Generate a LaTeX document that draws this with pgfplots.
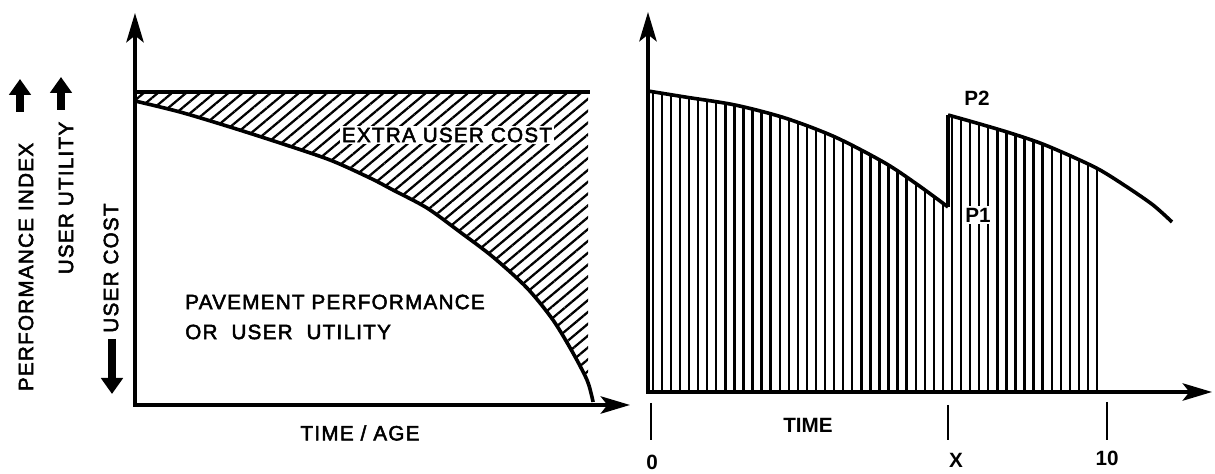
\documentclass[border=0pt]{standalone}
\usepackage{pgfplots}
\pgfplotsset{compat=1.18}
\usetikzlibrary{patterns.meta,arrows.meta}
\usepackage{fontspec}
\setmainfont{Liberation Sans}
\newfontface\medfont{Liberation Sans}[FakeBold=2.5, LetterSpace=6]
\tikzset{
 lab/.style={font=\fontsize{15.5}{18}\selectfont\medfont, inner sep=1.5pt},
 blab/.style={font=\fontsize{15.5}{18}\selectfont\bfseries, inner sep=1.5pt},
}
\pgfplotsset{
 diag/.style={
   x=0.75pt, y=0.75pt, axis lines=left, xtick=\empty, ytick=\empty,
   axis line style={line width=2.7pt, line cap=rect, -{Stealth[length=22pt,width=13pt,inset=5pt]}},
   clip=false, anchor=south west, xmin=0, ymin=0,
 },
}
\begin{document}
\begin{tikzpicture}
% ---------------- left panel ----------------
\begin{axis}[diag, at={(101.25pt,51.75pt)}, xmax=495, ymax=392]
% hatched area between the top line and the curve
\addplot[draw=none, pattern={Lines[angle=40,distance=6.8pt,line width=1.7pt]}, pattern color=black]
 coordinates {(0,313) (453,313) (453,21) (452,25) (438,52) (418,85) (392,117) (358,148)
  (325,173) (292,197) (258,215) (235,227) (195,245) (145,262) (95,278) (45,293) (0,304)} -- cycle;
\addplot[line width=2.7pt] coordinates {(-2,313) (455,313)};
\addplot[line width=2.7pt, smooth] coordinates {
 (0,304) (45,293) (95,278) (145,262) (195,245) (235,227) (258,215) (292,197)
 (325,173) (358,148) (392,117) (418,85) (438,52) (452,25) (457,8) (458,3)};
\node[lab, fill=white] at (312,270) {EXTRA USER COST};
\node[lab, anchor=west] at (48,103) {PAVEMENT PERFORMANCE};
\node[lab, anchor=west] at (48,73) {OR\ \ USER\ \ UTILITY};
\node[lab] at (225,-28) {TIME / AGE};
\node[lab, rotate=90] at (-109,138) {PERFORMANCE INDEX};
\node[lab, rotate=90] at (-69,207) {USER UTILITY};
\node[lab, rotate=90] at (-24,137) {USER COST};
\draw[line width=6pt, -{Triangle[length=12pt,width=16pt]}] (-115,293) -- (-115,326);
\draw[line width=6pt, -{Triangle[length=12pt,width=16pt]}] (-74,295) -- (-74,328);
\draw[line width=6pt, -{Triangle[length=12pt,width=16pt]}] (-23,66) -- (-23,11);
\end{axis}
% ---------------- right panel ----------------
\begin{axis}[diag, at={(486pt,61.5pt)}, xmax=564, ymax=380]
\addplot[draw=none, pattern={Lines[angle=90,distance=6.8pt,line width=1.8pt]}, pattern color=black]
 coordinates {(0,0) (0,301) (37,295) (87,287) (137,274) (187,255) (237,229) (270,207) (300,185) (300,0)} -- cycle;
\addplot[draw=none, pattern={Lines[angle=90,distance=6.8pt,line width=1.8pt]}, pattern color=black]
 coordinates {(300,0) (300,277) (325,270) (359,260) (392,249) (425,235) (454,221) (454,0)} -- cycle;
\addplot[line width=2.7pt, smooth] coordinates {
 (0,301) (37,295) (87,287) (137,274) (187,255) (237,229) (270,207) (300,185)};
\addplot[line width=2.7pt] coordinates {(300,185) (300,277)};
\addplot[line width=2.7pt, smooth] coordinates {
 (300,277) (325,270) (359,260) (392,249) (425,235) (452,222) (479,205) (505,187) (524,170)};
\draw[line width=2pt] (3,-11) -- (3,-48);
\draw[line width=2pt] (300,-13) -- (300,-48);
\draw[line width=2pt] (459,-10) -- (459,-48);
\node[blab] at (4,-70) {0};
\node[blab] at (308,-68) {X};
\node[blab] at (459,-66) {10};
\node[blab] at (160,-33) {TIME};
\node[blab] at (329,294) {P2};
\node[blab, fill=white] at (330,177) {P1};
\end{axis}
\pgfresetboundingbox
\useasboundingbox (0,0) rectangle (911.25pt,355.5pt);
\end{tikzpicture}
\end{document}
